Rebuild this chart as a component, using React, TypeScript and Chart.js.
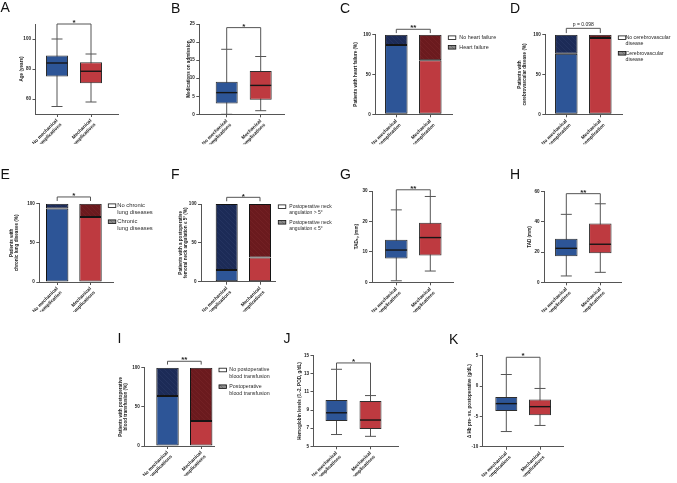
import React, { useEffect, useRef } from 'react';
import { Chart, registerables } from 'chart.js';

Chart.register(...registerables);

const FONT = "'Liberation Sans', Arial, Helvetica, sans-serif";
Chart.defaults.font.family = FONT;

// ---------------- data ----------------
const GROUP_X = [0, 1];
const LABELS_PLURAL = [['No mechanical', 'complications'], ['Mechanical', 'complications']];
const LABELS_SINGULAR = [['No mechanical', 'complication'], ['Mechanical', 'complication']];
const LABELS_MIXED = [['No mechanical', 'complication'], ['Mechanical', 'complications']];

// box plots: [min, q1, median, q3, max]
const ageNoMech = [55, 75, 84, 89, 100];
const ageMech = [58, 70.5, 78.5, 84.5, 90];
const ageTicks = [60, 80, 100];

const medsNoMech = [0, 3, 6, 9, 18];
const medsMech = [1, 4, 8, 12, 16];
const medsTicks = [0, 5, 10, 15, 20, 25];

const tadApNoMech = [0.5, 7.8, 10.6, 14, 23.8];
const tadApMech = [3.7, 8.8, 14.7, 19.6, 28.2];
const tadApTicks = [0, 10, 20, 30];

const tadNoMech = [4.2, 17.2, 22.5, 28.9, 45];
const tadMech = [6.6, 19.2, 25.2, 39, 52];
const tadTicks = [0, 20, 40, 60];

const hbNoMech = [6.3, 7.8, 8.7, 10.1, 13.5];
const hbMech = [6.1, 6.9, 7.9, 10.0, 10.6];
const hbTicks = [5, 7, 9, 11, 13, 15];

const dHbNoMech = [-7.5, -4.1, -2.9, -1.8, 1.9];
const dHbMech = [-6.5, -4.8, -3.4, -2.2, -0.4];
const dHbTicks = [-10, -5, 0, 5];

// stacked percentages [no mech, mech]
const percentTicks = [0, 50, 100];
const heartFailureNo = [87, 68];
const heartFailureYes = [13, 32];
const cerebroNo = [76, 96];
const cerebroYes = [24, 4];
const lungNo = [94, 83];
const lungYes = [6, 17];
const angulationOver5 = [15, 31];
const angulationAtMost5 = [85, 69];
const transfusionNo = [64, 32];
const transfusionYes = [36, 68];

// ---------------- styles ----------------
const BLUE = '#2d5597';
const BLUE_DARK = '#1c2b57';
const RED = '#be3a40';
const RED_DARK = '#6b1a1e';
const AXIS = '#555';
const WHISKER = '#555';
const BOX_EDGE = '#2e2e2e';
const BAR_EDGE = '#141414';
const CAP = 11;
const XH = 30;
const TITLE_SIZE = 4.6;
const TITLE_LH = 1.1;

type Legend = { boxX: number; textX: number; size: number; lh: number; items: { y: number; lines: string[] }[] };
type P = {
  key: string; letterX: number; letterY: number;
  cx: number; cy: number; cw: number; ch: number;
  L: number; T: number; R: number; B: number; c0: number; c1: number;
  yMin: number; yMax: number; yTicks: number[];
  title: string | string[]; titleX: number;
  xLabels: string[][];
  boxes?: number[][]; lower?: number[]; upper?: number[];
  barW: number;
  sig: string; sigY: number; sigDrop?: number;
  legend?: Legend;
};

const PANELS: P[] = [
  {
    key: 'A', letterX: 0.5, letterY: 2, cx: 0, cy: 0, cw: 160, ch: 165,
    L: 35.5, T: 24, R: 118, B: 114, c0: 57, c1: 91,
    yMin: 50, yMax: 110, yTicks: ageTicks, title: 'Age (years)', titleX: 22,
    xLabels: LABELS_PLURAL, boxes: [ageNoMech, ageMech], barW: 22, sig: '*', sigY: 110,
  },
  {
    key: 'B', letterX: 171, letterY: 3, cx: 160, cy: 0, cw: 170, ch: 165,
    L: 199.3, T: 24, R: 284, B: 114.3, c0: 226.7, c1: 260.7,
    yMin: 0, yMax: 25, yTicks: medsTicks, title: 'Medications on admission', titleX: 189,
    xLabels: LABELS_PLURAL, boxes: [medsNoMech, medsMech], barW: 22, sig: '*', sigY: 24,
  },
  {
    key: 'C', letterX: 340, letterY: 3, cx: 330, cy: 0, cw: 170, ch: 165,
    L: 375.3, T: 34.7, R: 452.7, B: 114.3, c0: 396.3, c1: 430.3,
    yMin: 0, yMax: 100, yTicks: percentTicks, title: 'Patients with heart failure (%)', titleX: 356,
    xLabels: LABELS_SINGULAR, lower: heartFailureNo, upper: heartFailureYes, barW: 22.5,
    sig: '**', sigY: 106.8, sigDrop: 102,
    legend: { boxX: 448.3, textX: 459.3, size: 5.4, lh: 6, items: [
      { y: 37.7, lines: ['No heart failure'] }, { y: 47.3, lines: ['Heart failure'] }] },
  },
  {
    key: 'D', letterX: 510, letterY: 3, cx: 500, cy: 0, cw: 177, ch: 165,
    L: 545.3, T: 34.7, R: 622.7, B: 114.3, c0: 566.3, c1: 600.3,
    yMin: 0, yMax: 100, yTicks: percentTicks, title: ['Patients with', 'cerebrovascular disease (%)'], titleX: 520,
    xLabels: LABELS_SINGULAR, lower: cerebroNo, upper: cerebroYes, barW: 22.5,
    sig: 'p = 0.098', sigY: 108, sigDrop: 102,
    legend: { boxX: 618.3, textX: 625.5, size: 5.2, lh: 5.8, items: [
      { y: 37.7, lines: ['No cerebrovascular', 'disease'] }, { y: 53.3, lines: ['Cerebrovascular', 'disease'] }] },
  },
  {
    key: 'E', letterX: 0.5, letterY: 169, cx: 0, cy: 160, cw: 160, ch: 170,
    L: 39.3, T: 203.7, R: 113, B: 282, c0: 57.2, c1: 90.5,
    yMin: 0, yMax: 100, yTicks: percentTicks, title: ['Patients with', 'chronic lung diseases (%)'], titleX: 11.7,
    xLabels: LABELS_MIXED, lower: lungNo, upper: lungYes, barW: 22.4,
    sig: '*', sigY: 108.6, sigDrop: 103.5,
    legend: { boxX: 108.3, textX: 117.3, size: 5.8, lh: 6.6, items: [
      { y: 205.7, lines: ['No chronic', 'lung diseases'] }, { y: 221.7, lines: ['Chronic', 'lung diseases'] }] },
  },
  {
    key: 'F', letterX: 171, letterY: 169, cx: 160, cy: 160, cw: 180, ch: 170,
    L: 201, T: 204, R: 275, B: 281.7, c0: 226.7, c1: 260,
    yMin: 0, yMax: 100, yTicks: percentTicks,
    title: ['Patients with a postoperative', 'femoral neck angulation \u2264 5\u00b0 (%)'], titleX: 180.7,
    xLabels: LABELS_PLURAL, lower: angulationOver5, upper: angulationAtMost5, barW: 22,
    sig: '*', sigY: 108.6, sigDrop: 103.5,
    legend: { boxX: 278.3, textX: 289.3, size: 5, lh: 6, items: [
      { y: 206.7, lines: ['Postoperative neck', 'angulation > 5\u00b0'] },
      { y: 222.3, lines: ['Postoperative neck', 'angulation \u2264 5\u00b0'] }] },
  },
  {
    key: 'G', letterX: 340, letterY: 169, cx: 330, cy: 160, cw: 170, ch: 170,
    L: 372, T: 191, R: 453, B: 282.3, c0: 396.3, c1: 430.3,
    yMin: 0, yMax: 30, yTicks: tadApTicks, title: 'TAD\u2090\u209a (mm)', titleX: 356.7,
    xLabels: LABELS_PLURAL, boxes: [tadApNoMech, tadApMech], barW: 22.5, sig: '**', sigY: 30.4,
  },
  {
    key: 'H', letterX: 510, letterY: 169, cx: 500, cy: 160, cw: 177, ch: 170,
    L: 544, T: 191.7, R: 621.7, B: 282.3, c0: 566.3, c1: 600.3,
    yMin: 0, yMax: 60, yTicks: tadTicks, title: 'TAD (mm)', titleX: 529.3,
    xLabels: LABELS_PLURAL, boxes: [tadNoMech, tadMech], barW: 22.5, sig: '**', sigY: 58.7,
  },
  {
    key: 'I', letterX: 117.5, letterY: 333, cx: 95, cy: 325, cw: 190, ch: 158,
    L: 144.3, T: 367.7, R: 214.3, B: 446, c0: 167.5, c1: 201.2,
    yMin: 0, yMax: 100, yTicks: percentTicks, title: ['Patients with postoperative', 'blood transfusion (%)'], titleX: 121,
    xLabels: LABELS_PLURAL, lower: transfusionNo, upper: transfusionYes, barW: 22.4,
    sig: '**', sigY: 108.2, sigDrop: 104,
    legend: { boxX: 219, textX: 229.3, size: 5.3, lh: 6.7, items: [
      { y: 370, lines: ['No postoperative', 'blood transfusion'] },
      { y: 386.7, lines: ['Postoperative', 'blood transfusion'] }] },
  },
  {
    key: 'J', letterX: 283.5, letterY: 333, cx: 280, cy: 325, cw: 160, ch: 158,
    L: 313.5, T: 355.7, R: 398.3, B: 446.3, c0: 336.5, c1: 370.5,
    yMin: 5, yMax: 15, yTicks: hbTicks, title: 'Hemoglobin levels (0.-2. POD, g/dL)', titleX: 299.3,
    xLabels: LABELS_PLURAL, boxes: [hbNoMech, hbMech], barW: 22, sig: '*', sigY: 14.2,
  },
  {
    key: 'K', letterX: 449, letterY: 334, cx: 440, cy: 325, cw: 237, ch: 158,
    L: 482.7, T: 355.7, R: 563, B: 446.7, c0: 506.3, c1: 540,
    yMin: -10, yMax: 5, yTicks: dHbTicks, title: '\u0394 Hb pre- vs. postoperative (g/dL)', titleX: 470,
    xLabels: LABELS_PLURAL, boxes: [dHbNoMech, dHbMech], barW: 22, sig: '*', sigY: 4.74,
  },
];

function hatch(base: string, line: string): any {
  const c = document.createElement('canvas');
  c.width = 5; c.height = 5;
  const g = c.getContext('2d');
  if (!g) return base;
  g.fillStyle = base; g.fillRect(0, 0, 5, 5);
  g.strokeStyle = line; g.lineWidth = 0.6;
  g.beginPath();
  g.moveTo(0, 0); g.lineTo(5, 5);
  g.moveTo(-1, 4); g.lineTo(1, 6);
  g.moveTo(4, -1); g.lineTo(6, 1);
  g.stroke();
  return g.createPattern(c, 'repeat') || base;
}

function extrasPlugin(p: P, grayHatch: any) {
  return {
    id: 'extras' + p.key,
    beforeDatasetsDraw(chart: any) {
      if (!p.boxes) return;
      const { ctx } = chart;
      const ys = chart.scales.y;
      const meta = chart.getDatasetMeta(0);
      ctx.save();
      ctx.strokeStyle = WHISKER; ctx.lineWidth = 1;
      p.boxes.forEach((b, i) => {
        const x = meta.data[i].x;
        const top = ys.getPixelForValue(b[4]);
        const bot = ys.getPixelForValue(b[0]);
        ctx.beginPath();
        ctx.moveTo(x, top); ctx.lineTo(x, bot);
        ctx.moveTo(x - CAP / 2, top); ctx.lineTo(x + CAP / 2, top);
        ctx.moveTo(x - CAP / 2, bot); ctx.lineTo(x + CAP / 2, bot);
        ctx.stroke();
      });
      ctx.restore();
    },
    afterDatasetsDraw(chart: any) {
      if (!p.boxes) return;
      const { ctx } = chart;
      const ys = chart.scales.y;
      const meta = chart.getDatasetMeta(0);
      ctx.save();
      ctx.strokeStyle = '#161616'; ctx.lineWidth = 1.4;
      p.boxes.forEach((b, i) => {
        const el = meta.data[i];
        const y = ys.getPixelForValue(b[2]);
        ctx.beginPath();
        ctx.moveTo(el.x - el.width / 2 + 0.5, y); ctx.lineTo(el.x + el.width / 2 - 0.5, y);
        ctx.stroke();
      });
      ctx.restore();
    },
    afterDraw(chart: any) {
      const { ctx } = chart;
      const ys = chart.scales.y;
      const meta = chart.getDatasetMeta(0);
      const x0 = meta.data[0].x, x1 = meta.data[1].x;
      const yb = ys.getPixelForValue(p.sigY);
      const d0 = ys.getPixelForValue(p.boxes ? p.boxes[0][4] : (p.sigDrop as number));
      const d1 = ys.getPixelForValue(p.boxes ? p.boxes[1][4] : (p.sigDrop as number));
      ctx.save();
      ctx.strokeStyle = WHISKER; ctx.lineWidth = 1;
      ctx.beginPath();
      ctx.moveTo(x0, d0); ctx.lineTo(x0, yb); ctx.lineTo(x1, yb); ctx.lineTo(x1, d1);
      ctx.stroke();
      ctx.fillStyle = '#222'; ctx.textAlign = 'center'; ctx.textBaseline = 'alphabetic';
      if (p.sig.startsWith('p')) {
        ctx.font = `5px ${FONT}`;
        ctx.fillText(p.sig, (x0 + x1) / 2, yb - 2.6);
      } else {
        ctx.font = `bold 8px ${FONT}`;
        ctx.fillText(p.sig, (x0 + x1) / 2, yb + 1.2);
      }
      const lg = p.legend;
      if (lg) {
        ctx.font = `${lg.size}px ${FONT}`;
        ctx.textAlign = 'left'; ctx.textBaseline = 'middle';
        lg.items.forEach((it, k) => {
          const bx = lg.boxX - p.cx, by = it.y - p.cy;
          ctx.fillStyle = k === 0 ? '#fff' : grayHatch;
          ctx.fillRect(bx, by - 1.8, 7.5, 3.6);
          ctx.strokeStyle = '#111'; ctx.lineWidth = 0.8;
          ctx.strokeRect(bx, by - 1.8, 7.5, 3.6);
          ctx.fillStyle = '#2a2a2a';
          it.lines.forEach((ln, j) => ctx.fillText(ln, lg.textX - p.cx, by + j * lg.lh));
        });
      }
      ctx.restore();
    },
  };
}

function buildConfig(p: P): any {
  const lhPx = TITLE_SIZE * TITLE_LH;
  const yw = p.L - (p.titleX - lhPx / 2);
  const padding = {
    left: p.L - p.cx - yw,
    top: p.T - p.cy,
    right: p.cx + p.cw - p.R,
    bottom: p.cy + p.ch - p.B - XH,
  };
  const unit = p.c1 - p.c0;
  const xMin = (p.L - p.c0) / unit;
  const xMax = 1 + (p.R - p.c1) / unit;
  const stacked = !p.boxes;
  const common = { borderSkipped: false, barThickness: p.barW, inflateAmount: 0 };
  const datasets = p.boxes
    ? [{
      ...common,
      data: GROUP_X.map((x, i) => ({ x, y: [p.boxes![i][1], p.boxes![i][3]] })),
      backgroundColor: [BLUE, RED], borderColor: BOX_EDGE, borderWidth: 1,
    }]
    : [
      {
        ...common,
        data: GROUP_X.map((x, i) => ({ x, y: p.lower![i] })),
        backgroundColor: [BLUE, RED], borderColor: BAR_EDGE, borderWidth: 1,
      },
      {
        ...common,
        data: GROUP_X.map((x, i) => ({ x, y: p.upper![i] })),
        backgroundColor: [hatch(BLUE_DARK, 'rgba(90,110,165,0.22)'), hatch(RED_DARK, 'rgba(170,80,80,0.22)')],
        borderColor: BAR_EDGE, borderWidth: 1,
      },
    ];
  const grayHatch = hatch('#8c8c8c', 'rgba(40,40,40,0.45)');
  const tickFont = { size: 4.6, weight: 'bold', family: FONT };
  return {
    type: 'bar',
    data: { datasets },
    plugins: [extrasPlugin(p, grayHatch)],
    options: {
      responsive: false,
      animation: false,
      devicePixelRatio: 1,
      events: [],
      layout: { padding },
      plugins: { legend: { display: false }, tooltip: { enabled: false }, title: { display: false } },
      scales: {
        x: {
          type: 'linear', min: xMin, max: xMax, offset: false, bounds: 'data', stacked,
          grid: { display: true, offset: false, drawOnChartArea: false, drawTicks: true, tickLength: 3, color: AXIS, lineWidth: 1 },
          border: { display: true, color: AXIS, width: 1 },
          afterBuildTicks: (s: any) => { s.ticks = GROUP_X.map((v) => ({ value: v })); },
          afterFit: (s: any) => { s.height = XH; s.paddingLeft = 0; s.paddingRight = 0; s.paddingTop = 0; s.paddingBottom = 0; },
          ticks: {
            autoSkip: false, minRotation: 45, maxRotation: 45, padding: 1,
            font: { size: 4.8, weight: 'bold', family: FONT, lineHeight: 1.15 }, color: '#222',
            callback: (_v: any, i: number) => p.xLabels[i],
          },
        },
        y: {
          type: 'linear', min: p.yMin, max: p.yMax, stacked, bounds: 'data',
          grid: { display: true, drawOnChartArea: false, drawTicks: true, tickLength: 3, color: AXIS, lineWidth: 1 },
          border: { display: true, color: AXIS, width: 1 },
          afterBuildTicks: (s: any) => { s.ticks = p.yTicks.map((v) => ({ value: v })); },
          afterFit: (s: any) => { s.width = yw; s.paddingLeft = 0; s.paddingRight = 0; s.paddingTop = 0; s.paddingBottom = 0; },
          ticks: { padding: 1.5, font: tickFont, color: '#222' },
          title: {
            display: true, text: p.title, padding: 0, color: '#222',
            font: { size: TITLE_SIZE, weight: 'bold', family: FONT, lineHeight: TITLE_LH },
          },
        },
      },
    },
  };
}

function PanelChart({ p }: { p: P }) {
  const ref = useRef<HTMLCanvasElement>(null);
  useEffect(() => {
    if (!ref.current) return;
    const chart = new Chart(ref.current, buildConfig(p));
    return () => chart.destroy();
  }, [p]);
  return (
    <canvas
      ref={ref}
      width={p.cw}
      height={p.ch}
      style={{ position: 'absolute', left: p.cx, top: p.cy, width: p.cw, height: p.ch }}
    />
  );
}

export default function App() {
  return (
    <div style={{ position: 'absolute', left: 0, top: 0, width: 677, height: 483, background: '#fff', overflow: 'hidden', fontFamily: FONT }}>
      {PANELS.map((p) => <PanelChart key={p.key} p={p} />)}
      {PANELS.map((p) => (
        <div key={'letter' + p.key} style={{ position: 'absolute', left: p.letterX, top: p.letterY - 2, fontSize: 14, lineHeight: '14px', color: '#111' }}>
          {p.key}
        </div>
      ))}
    </div>
  );
}
